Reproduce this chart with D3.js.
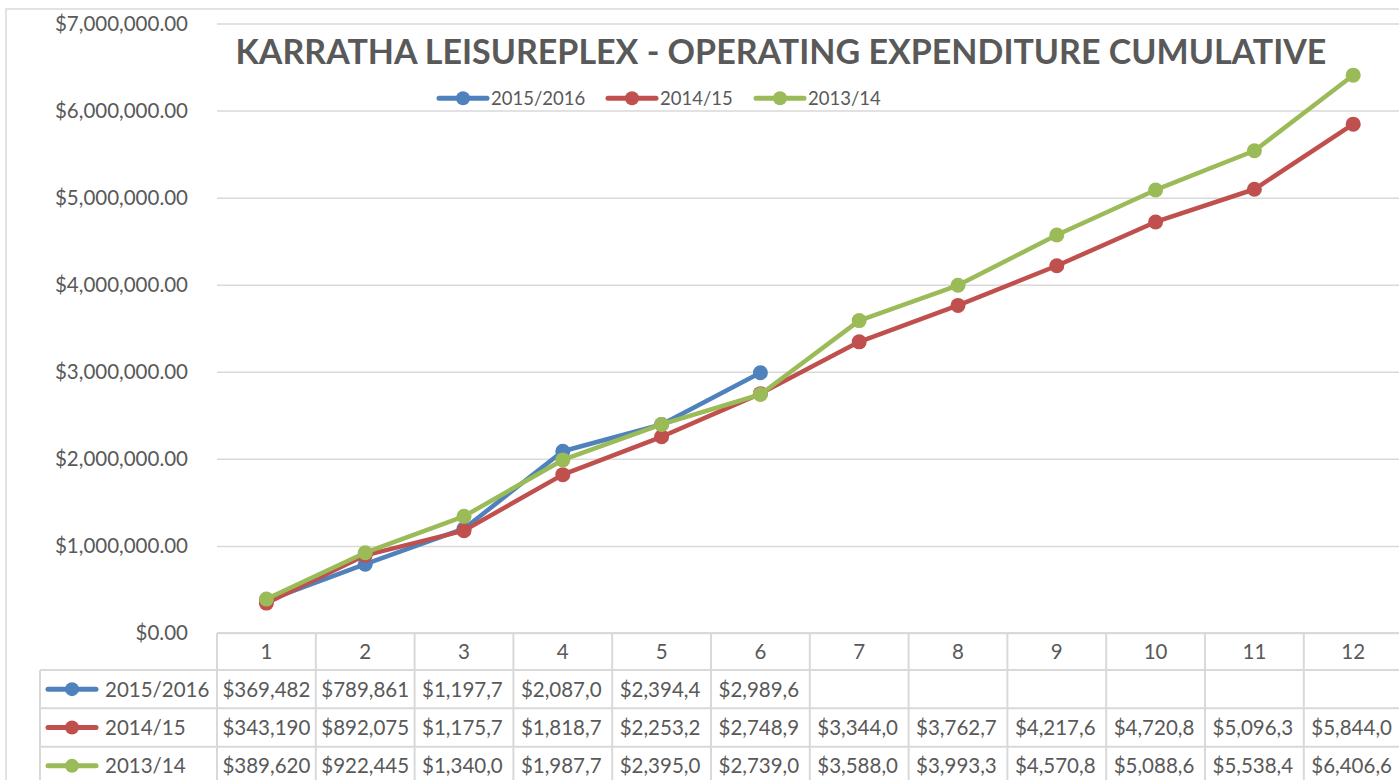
<!DOCTYPE html>
<html>
<head>
<meta charset="utf-8">
<script src="https://cdn.jsdelivr.net/npm/d3@7"></script>
<style>
  body { margin: 0; background: #fff; }
  text { font-family: Lato, "Open Sans", sans-serif; fill: #595959; }
</style>
</head>
<body>
<script>
// chart data
var months = [1, 2, 3, 4, 5, 6, 7, 8, 9, 10, 11, 12];
var seriesNames = ['2015/2016', '2014/15', '2013/14'];
var seriesColors = ['#4F81BD', '#C0504D', '#9BBB59'];
var fy1516 = [369482, 789861, 1197700, 2087000, 2394400, 2989600];
var fy1415 = [343190, 892075, 1175700, 1818700, 2253200, 2748900, 3344000, 3762700, 4217600, 4720800, 5096300, 5844000];
var fy1314 = [389620, 922445, 1340000, 1987700, 2395000, 2739000, 3588000, 3993300, 4570800, 5088600, 5538400, 6406600];
var yTicks = [0, 1000000, 2000000, 3000000, 4000000, 5000000, 6000000, 7000000];
var title = 'KARRATHA LEISUREPLEX - OPERATING EXPENDITURE CUMULATIVE';

var allSeries = [fy1516, fy1415, fy1314];

var W = 1399, H = 780;
var plotLeft = 217, colW = 98.8;
var plotRight = plotLeft + colW * months.length;
var plotTop = 23.5, plotBottom = 633;
var rowTops = [633, 670, 708.3, 746.7, 785];
var gridColor = '#d9d9d9';

var svg = d3.select('body').append('svg')
    .attr('width', W)
    .attr('height', H);

// chart frame
svg.append('path')
    .attr('d', 'M6,' + H + 'V9H' + W)
    .attr('fill', 'none')
    .attr('stroke', gridColor)
    .attr('stroke-width', 1.5);

var x = d3.scaleBand().domain(months).range([plotLeft, plotRight]).padding(0);
var y = d3.scaleLinear().domain([0, 7000000]).range([plotBottom, plotTop]);

// gridlines
svg.append('g')
    .attr('transform', 'translate(' + plotLeft + ',0)')
    .call(d3.axisLeft(y).tickValues(yTicks).tickSize(-(plotRight - plotLeft)).tickFormat(''))
    .call(g => g.select('.domain').remove())
    .call(g => g.selectAll('line').attr('stroke', gridColor).attr('stroke-width', 1.5));

// y labels
svg.append('g')
    .attr('transform', 'translate(' + plotLeft + ',0)')
    .call(d3.axisLeft(y).tickValues(yTicks).tickSize(0).tickPadding(29).tickFormat(d3.format('$,.2f')))
    .call(g => g.select('.domain').remove())
    .call(g => g.selectAll('text')
        .attr('fill', '#595959')
        .style('font-size', '20.5px')
        .style('font-family', 'Lato, sans-serif'));

// table grid
var tbl = svg.append('g').attr('stroke', gridColor).attr('stroke-width', 2).attr('fill', 'none');
tbl.append('line').attr('x1', plotLeft).attr('x2', W + 10).attr('y1', rowTops[0]).attr('y2', rowTops[0]);
rowTops.slice(1).forEach(function(r){
    tbl.append('line').attr('x1', 40).attr('x2', W + 10).attr('y1', r).attr('y2', r);
});
tbl.append('line').attr('x1', 40).attr('x2', 40).attr('y1', rowTops[1]).attr('y2', H + 10);
months.forEach(function(m){
    tbl.append('line').attr('x1', x(m)).attr('x2', x(m)).attr('y1', rowTops[0]).attr('y2', H + 10);
});
tbl.append('line').attr('x1', plotRight).attr('x2', plotRight).attr('y1', rowTops[0]).attr('y2', H + 10);

// header row: month numbers
svg.append('g')
    .attr('transform', 'translate(0,' + ((rowTops[0] + rowTops[1]) / 2) + ')')
    .call(d3.axisBottom(x).tickSize(0).tickPadding(0))
    .call(g => g.select('.domain').remove())
    .call(g => g.selectAll('text')
        .attr('dy', '0.36em')
        .attr('fill', '#595959')
        .style('font-size', '20.5px')
        .style('font-family', 'Lato, sans-serif'));

// legend key helper
function key(g, cx, cy, color){
    g.append('line')
        .attr('x1', cx - 24).attr('x2', cx + 24)
        .attr('y1', cy).attr('y2', cy)
        .attr('stroke', color).attr('stroke-width', 5).attr('stroke-linecap', 'round');
    g.append('circle').attr('cx', cx).attr('cy', cy).attr('r', 7).attr('fill', color);
}

// table rows
var fmt = d3.format('$,');
allSeries.forEach(function(vals, si){
    var top = rowTops[si + 1], bot = rowTops[si + 2];
    var cy = (top + bot) / 2;
    var row = svg.append('g');
    key(row, 72, cy, seriesColors[si]);
    row.append('text')
        .attr('x', 105).attr('y', cy).attr('dy', '0.36em')
        .style('font-size', '20.5px')
        .text(seriesNames[si]);

    vals.forEach(function(v, i){
        var m = months[i];
        var cx0 = x(m), cw = x.bandwidth();
        var t = row.append('text')
            .attr('y', cy).attr('dy', '0.36em')
            .style('font-size', '20.5px');
        var s = fmt(v);
        t.text(s);
        if (t.node().getComputedTextLength() <= cw - 8) {
            t.attr('x', cx0 + cw / 2).attr('text-anchor', 'middle');
        } else {
            // excel style: left aligned, cut to whole characters
            while (s.length > 1 && t.node().getComputedTextLength() > cw - 13) {
                s = s.slice(0, -1);
                t.text(s);
            }
            t.attr('x', cx0 + 7.5);
        }
    });
});

// series lines and markers
var line = d3.line()
    .x(function(d, i){ return x(months[i]) + x.bandwidth() / 2; })
    .y(function(d){ return y(d); });

allSeries.forEach(function(vals, si){
    var g = svg.append('g');
    g.append('path')
        .attr('d', line(vals))
        .attr('fill', 'none')
        .attr('stroke', seriesColors[si])
        .attr('stroke-width', 4.5)
        .attr('stroke-linejoin', 'round');
    g.selectAll('circle').data(vals).enter().append('circle')
        .attr('cx', function(d, i){ return x(months[i]) + x.bandwidth() / 2; })
        .attr('cy', function(d){ return y(d); })
        .attr('r', 7.5)
        .attr('fill', seriesColors[si]);
});

// title
svg.append('text')
    .attr('x', 781).attr('y', 64)
    .attr('text-anchor', 'middle')
    .style('font-size', '34px')
    .style('font-weight', 'bold')
    .text(title);

// top legend
var legX = [463, 632, 780];
var leg = svg.append('g');
seriesNames.forEach(function(n, i){
    key(leg, legX[i], 98.3, seriesColors[i]);
    leg.append('text')
        .attr('x', legX[i] + 28).attr('y', 98.3).attr('dy', '0.36em')
        .style('font-size', '18.5px')
        .text(n);
});
</script>
</body>
</html>
